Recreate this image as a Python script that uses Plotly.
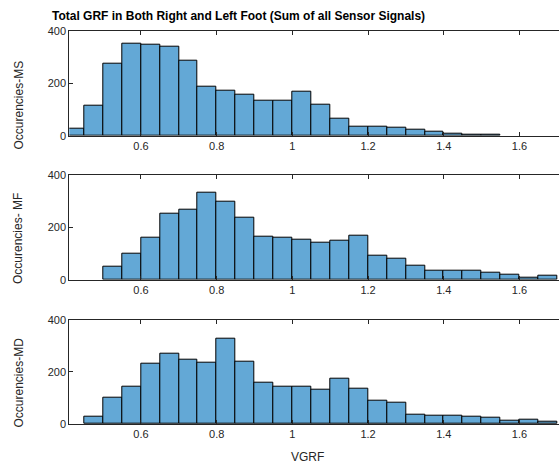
import plotly.graph_objects as go

# ---- data ----
bin_left = [0.40, 0.45, 0.50, 0.55, 0.60, 0.65, 0.70, 0.75, 0.80, 0.85,
            0.90, 0.95, 1.00, 1.05, 1.10, 1.15, 1.20, 1.25, 1.30, 1.35,
            1.40, 1.45, 1.50, 1.55, 1.60, 1.65, 1.70]
bin_width = 0.05
counts_ms = [25, 116, 273, 350, 345, 339, 284, 187, 170, 158,
             135, 133, 167, 118, 66, 33, 35, 31, 22, 14,
             9, 4, 2, 0, 0, 0, 0]
counts_mf = [0, 0, 50, 100, 159, 252, 265, 330, 297, 238,
             165, 161, 152, 141, 147, 166, 93, 80, 54, 36,
             35, 36, 28, 20, 9, 14, 0]
counts_md = [0, 27, 102, 143, 233, 270, 247, 235, 328, 238,
             160, 142, 142, 132, 173, 137, 88, 81, 35, 33,
             31, 28, 26, 12, 15, 8, 0]
y_titles = ["Occurencies-MS", "Occurencies- MF", "Occurencies-MD"]
x_ticks = [0.6, 0.8, 1.0, 1.2, 1.4, 1.6]
x_tick_labels = ["0.6", "0.8", "1", "1.2", "1.4", "1.6"]
y_ticks = [0, 200, 400]
title_text = "Total GRF in Both Right and Left Foot (Sum of all Sensor Signals)"
x_title = "VGRF"

# ---- layout geometry ----
W, H = 559, 464
AX = "#262626"
BAR = "rgb(99,168,214)"
FONT = "Liberation Sans, Arial, Helvetica, sans-serif"
x_range = [0.4106, 1.7044]
x_dom = [69.3 / W, 1.0]
panels_px = [(30.7, 135.7), (174.7, 279.7), (319.7, 424.0)]
ytitle_center_px = [105.0, 238.5, 383.0]

fig = go.Figure()
all_counts = [counts_ms, counts_mf, counts_md]
for i, counts in enumerate(all_counts):
    xs = [b + bin_width / 2 for b, c in zip(bin_left, counts) if c > 0]
    ys = [c for c in counts if c > 0]
    sfx = "" if i == 0 else str(i + 1)
    fig.add_trace(go.Bar(
        x=xs, y=ys, width=bin_width,
        marker=dict(color=BAR, line=dict(color="black", width=1)),
        xaxis="x" + sfx, yaxis="y" + sfx, showlegend=False,
        hoverinfo="x+y",
    ))
    top, bot = panels_px[i]
    dom = [1 - bot / H, 1 - top / H]
    fig.layout["xaxis" + sfx] = dict(
        domain=x_dom, range=x_range, anchor="y" + sfx,
        tickmode="array", tickvals=x_ticks, ticktext=x_tick_labels,
        ticks="inside", ticklen=4, tickwidth=1, tickcolor=AX,
        showline=True, linecolor=AX, linewidth=1, mirror="ticks",
        showgrid=False, zeroline=False, automargin=False,
        tickfont=dict(family=FONT, size=11, color=AX),
    )
    fig.layout["yaxis" + sfx] = dict(
        domain=dom, range=[0, 400], anchor="x" + sfx,
        tickmode="array", tickvals=y_ticks,
        ticks="inside", ticklen=4, tickwidth=1, tickcolor=AX,
        showline=True, linecolor=AX, linewidth=1, mirror=False,
        showgrid=False, zeroline=False, automargin=False,
        tickfont=dict(family=FONT, size=11, color=AX),
    )
    fig.add_annotation(
        text=y_titles[i], xref="paper", yref="paper",
        x=18.5 / W, y=1 - ytitle_center_px[i] / H, textangle=-90,
        showarrow=False, xanchor="center", yanchor="middle",
        font=dict(family=FONT, size=12, color=AX),
    )

fig.add_annotation(
    text="<b>" + title_text + "</b>", xref="paper", yref="paper",
    x=50 / W, y=1 - 15.5 / H, xanchor="left", yanchor="middle",
    showarrow=False, font=dict(family=FONT, size=12, color="black"),
)
fig.add_annotation(
    text=x_title, xref="paper", yref="paper",
    x=308 / W, y=1 - 457 / H, xanchor="center", yanchor="middle",
    showarrow=False, font=dict(family=FONT, size=12, color=AX),
)

fig.update_layout(
    template="none", width=W, height=H,
    margin=dict(l=0, r=0, t=0, b=0, pad=0),
    paper_bgcolor="white", plot_bgcolor="white",
    bargap=0, showlegend=False,
)

fig.write_html(
    "out.html",
    config={"displayModeBar": False},
    post_script="document.body.style.margin='0';document.body.style.padding='0';",
)
